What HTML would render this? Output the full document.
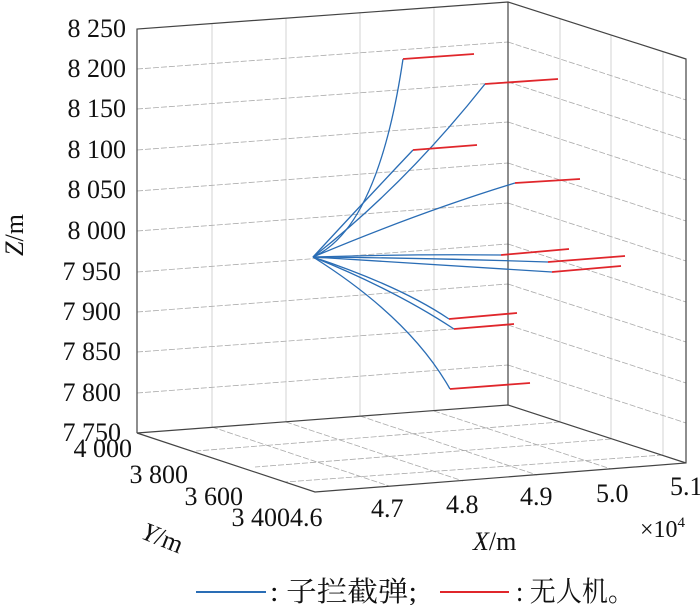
<!DOCTYPE html>
<html><head><meta charset="utf-8"><style>
html,body{margin:0;padding:0;background:#fff;}
svg{display:block;}
text{font-family:"Liberation Serif","Noto Serif CJK SC",serif;fill:#111;}
</style></head><body>
<svg width="700" height="605" viewBox="0 0 700 605" xmlns="http://www.w3.org/2000/svg">
<g stroke="#c8c8c8" stroke-width="0.8" fill="none">
<line x1="212" y1="24" x2="212" y2="427"/>
<line x1="286" y1="18" x2="286" y2="422"/>
<line x1="360" y1="12" x2="360" y2="416"/>
<line x1="434" y1="7" x2="434" y2="411"/>
<line x1="560" y1="19" x2="560" y2="422"/>
<line x1="611" y1="35" x2="611" y2="439"/>
<line x1="663" y1="52" x2="663" y2="455"/>
</g>
<g stroke="#aaa" stroke-width="0.8" fill="none" stroke-dasharray="6,2">
<line x1="137" y1="69" x2="508" y2="42"/>
<line x1="137" y1="109" x2="508" y2="82"/>
<line x1="137" y1="150" x2="508" y2="122"/>
<line x1="137" y1="191" x2="508" y2="163"/>
<line x1="137" y1="231" x2="508" y2="203"/>
<line x1="137" y1="272" x2="508" y2="244"/>
<line x1="137" y1="312" x2="508" y2="284"/>
<line x1="137" y1="352" x2="508" y2="325"/>
<line x1="137" y1="393" x2="508" y2="365"/>
<line x1="508" y1="42" x2="686" y2="100"/>
<line x1="508" y1="82" x2="686" y2="140"/>
<line x1="508" y1="122" x2="686" y2="180"/>
<line x1="508" y1="163" x2="686" y2="221"/>
<line x1="508" y1="203" x2="686" y2="261"/>
<line x1="508" y1="244" x2="686" y2="302"/>
<line x1="508" y1="284" x2="686" y2="342"/>
<line x1="508" y1="325" x2="686" y2="383"/>
<line x1="508" y1="365" x2="686" y2="423"/>
<line x1="212" y1="427" x2="389" y2="486"/>
<line x1="286" y1="422" x2="463" y2="481"/>
<line x1="360" y1="416" x2="537" y2="475"/>
<line x1="434" y1="411" x2="611" y2="469"/>
<line x1="560" y1="422" x2="196" y2="451"/>
<line x1="611" y1="439" x2="255" y2="467"/>
<line x1="663" y1="455" x2="285" y2="482"/>
</g>
<g stroke="#444" stroke-width="1.2" fill="none">
<polyline points="137,433 137,29 508,2 686,59 686,463 315,492 137,433 508,405 686,463"/>
<line x1="508" y1="2" x2="508" y2="405"/>
</g>
<g stroke="#2a6db5" stroke-width="1.3" fill="none">
<path d="M313,257 Q378,228 403,59"/>
<path d="M313,257 Q405,185 485,84"/>
<path d="M313,257 Q375,190 413,150"/>
<path d="M313,257 Q420,212 515,183"/>
<path d="M313,257 Q410,254 501,255"/>
<path d="M313,257 Q430,258 548,262"/>
<path d="M313,257 Q430,264 552,272"/>
<path d="M313,257 Q400,286 449,319"/>
<path d="M313,257 Q395,290 454,329"/>
<path d="M313,257 Q410,318 450,389"/>
</g>
<g stroke="#e0262b" stroke-width="1.8" fill="none">
<line x1="403" y1="59" x2="474" y2="54"/>
<line x1="485" y1="84" x2="558" y2="79"/>
<line x1="413" y1="150" x2="477" y2="145"/>
<line x1="515" y1="183" x2="580" y2="179"/>
<line x1="501" y1="255" x2="569" y2="249"/>
<line x1="548" y1="262" x2="625" y2="256"/>
<line x1="552" y1="272" x2="621" y2="266"/>
<line x1="449" y1="319" x2="517" y2="313"/>
<line x1="454" y1="329" x2="514" y2="324"/>
<line x1="450" y1="389" x2="530" y2="383"/>
</g>
<g font-size="26" text-anchor="end">
<text x="126" y="37">8 250</text>
<text x="126" y="77">8 200</text>
<text x="126" y="117">8 150</text>
<text x="126" y="158">8 100</text>
<text x="126" y="198">8 050</text>
<text x="126" y="239">8 000</text>
<text x="121" y="280">7 950</text>
<text x="121" y="320">7 900</text>
<text x="121" y="360">7 850</text>
<text x="121" y="401">7 800</text>
<text x="121" y="441">7 750</text>
<text x="132" y="457">4 000</text>
<text x="188" y="483">3 800</text>
<text x="243" y="505">3 600</text>
<text x="290" y="526">3 400</text>
</g>
<g font-size="26">
<text x="290" y="526">4.6</text>
<text x="371" y="517">4.7</text>
<text x="446" y="513">4.8</text>
<text x="520" y="505">4.9</text>
<text x="596" y="502">5.0</text>
<text x="670" y="495">5.1</text>
<text x="640" y="537" font-size="24">×10<tspan font-size="15" dy="-10">4</tspan></text>
<text x="473" y="550"><tspan font-style="italic">X</tspan>/m</text>
<text transform="translate(140,538) rotate(22)"><tspan font-style="italic">Y</tspan>/m</text>
<text transform="translate(23,256) rotate(-90)"><tspan font-style="italic">Z</tspan>/m</text>
</g>
<line x1="196" y1="592" x2="266" y2="592" stroke="#2a6db5" stroke-width="2"/>
<text x="270" y="601" font-size="28" textLength="147" lengthAdjust="spacingAndGlyphs">: 子拦截弹;</text>
<line x1="440" y1="592" x2="509" y2="592" stroke="#e0262b" stroke-width="2"/>
<text x="516" y="601" font-size="28" textLength="118" lengthAdjust="spacingAndGlyphs">: 无人机。</text>
</svg>
</body></html>
